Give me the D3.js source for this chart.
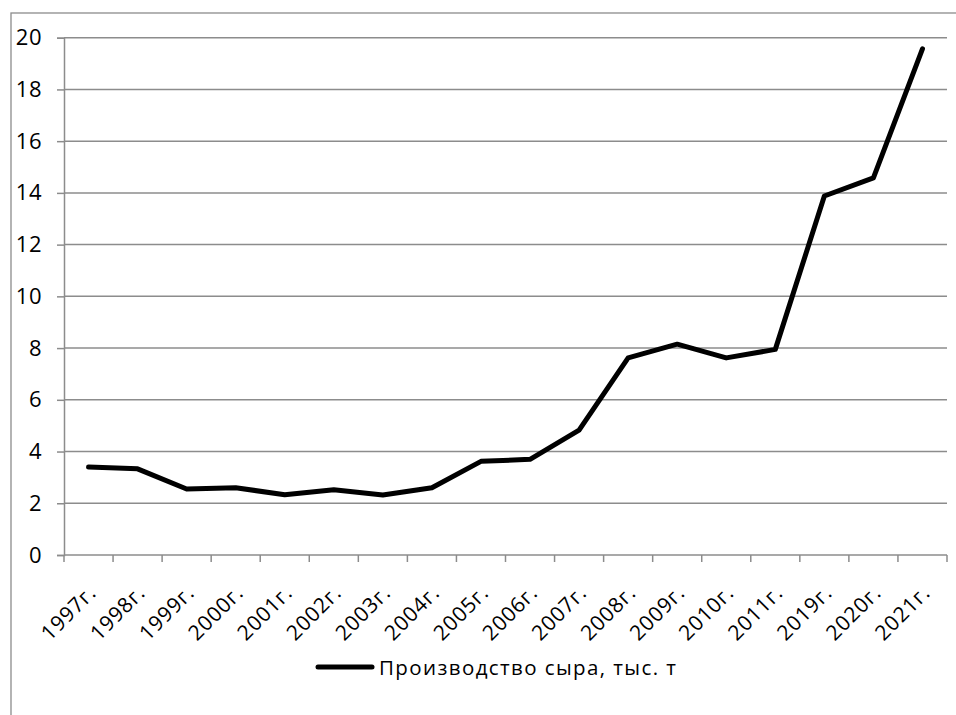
<!DOCTYPE html>
<html>
<head>
<meta charset="utf-8">
<script src="https://cdn.jsdelivr.net/npm/d3@7"></script>
<style>
  body { margin: 0; background: #fff; }
  text { font-family: "Open Sans", "Noto Sans", sans-serif; fill: #000; }
</style>
</head>
<body>
<div id="chart"></div>
<script>
var years = ["1997г.", "1998г.", "1999г.", "2000г.", "2001г.", "2002г.", "2003г.", "2004г.", "2005г.",
             "2006г.", "2007г.", "2008г.", "2009г.", "2010г.", "2011г.", "2019г.", "2020г.", "2021г."];
var cheese = [3.4, 3.33, 2.55, 2.6, 2.33, 2.52, 2.32, 2.6, 3.62, 3.7, 4.83, 7.62, 8.15, 7.62, 7.95, 13.88, 14.58, 19.57];
var yTicks = [0, 2, 4, 6, 8, 10, 12, 14, 16, 18, 20];
var seriesName = "Производство сыра, тыс. т";

var W = 956, H = 715;
var plotLeft = 64, plotRight = 947, plotTop = 37.7, plotBottom = 555;

var svg = d3.select("#chart").append("svg").attr("width", W).attr("height", H);

// outer chart frame (cut off at right and bottom)
svg.append("rect").attr("x", 11).attr("y", 13).attr("width", 1000).attr("height", 800)
   .attr("fill", "none").attr("stroke", "#8c8c8c").attr("stroke-width", 1.3);

var x = d3.scaleBand().domain(years).range([plotLeft, plotRight]);
var y = d3.scaleLinear().domain([0, 20]).range([plotBottom, plotTop]);

// gridlines
svg.append("g").selectAll("line").data(yTicks.filter(function (d) { return d > 0; })).enter()
   .append("line")
   .attr("x1", plotLeft).attr("x2", plotRight)
   .attr("y1", function (d) { return y(d); }).attr("y2", function (d) { return y(d); })
   .attr("stroke", "#8c8c8c").attr("stroke-width", 1.5);

// y axis
var yAxis = svg.append("g").attr("transform", "translate(" + plotLeft + ",0)")
   .call(d3.axisLeft(y).tickValues(yTicks).tickSize(7).tickPadding(15));
yAxis.select(".domain").attr("stroke", "#8c8c8c").attr("stroke-width", 1.5);
yAxis.selectAll(".tick line").attr("stroke", "#8c8c8c").attr("stroke-width", 1.5);
yAxis.selectAll("text").attr("font-size", 22).attr("font-family", "Open Sans, sans-serif")
   .attr("fill", "#000").attr("letter-spacing", 0.5);

// x axis with ticks at band edges
var xg = svg.append("g").attr("transform", "translate(0," + plotBottom + ")");
xg.append("line").attr("x1", plotLeft).attr("x2", plotRight).attr("stroke", "#8c8c8c").attr("stroke-width", 1.5);
var edges = years.map(function (d) { return x(d); }).concat([plotRight]);
xg.selectAll("line.tk").data(edges).enter().append("line").attr("class", "tk")
   .attr("x1", function (d) { return d; }).attr("x2", function (d) { return d; })
   .attr("y1", 0).attr("y2", 7).attr("stroke", "#8c8c8c").attr("stroke-width", 1.5);
xg.selectAll("text").data(years).enter().append("text")
   .attr("transform", function (d) {
     return "translate(" + (x(d) + x.bandwidth() / 2 + 9) + ",39) rotate(-45)";
   })
   .attr("text-anchor", "end")
   .attr("font-size", 21)
   .attr("letter-spacing", 0.8)
   .text(function (d) { return d; });

// line
var line = d3.line()
   .x(function (d, i) { return x(years[i]) + x.bandwidth() / 2; })
   .y(function (d) { return y(d); });
svg.append("path").datum(cheese)
   .attr("d", line)
   .attr("fill", "none").attr("stroke", "#000").attr("stroke-width", 5)
   .attr("stroke-linejoin", "round").attr("stroke-linecap", "round");

// legend
var lg = svg.append("g").attr("transform", "translate(318,667)");
lg.append("line").attr("x1", 0).attr("x2", 54).attr("stroke", "#000").attr("stroke-width", 5)
  .attr("stroke-linecap", "round");
lg.append("text").attr("x", 61).attr("y", 8).attr("font-size", 20.5)
  .attr("letter-spacing", 1.4).text(seriesName);
</script>
</body>
</html>
